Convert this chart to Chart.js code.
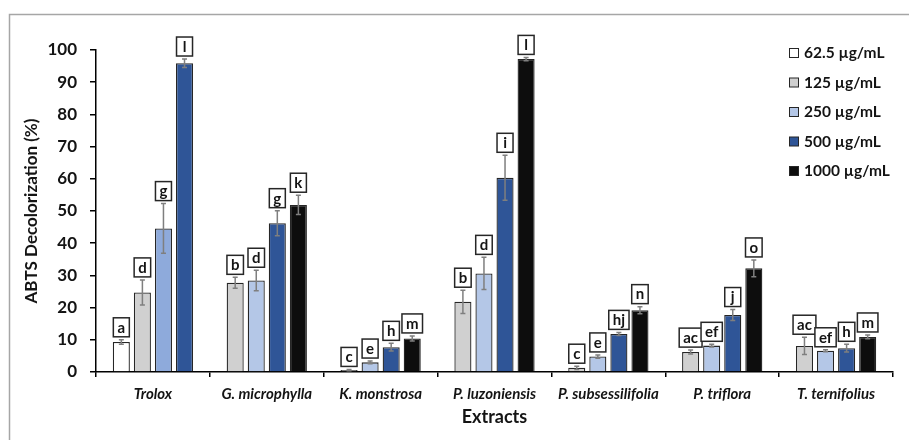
<!DOCTYPE html>
<html>
<head>
<meta charset="utf-8">
<script src="https://cdn.jsdelivr.net/npm/chart.js@4"></script>
<style>
  html, body { margin: 0; padding: 0; background: #fff; }
  #wrap { width: 909px; height: 440px; }
</style>
</head>
<body>
<div id="wrap"><canvas id="myChart" width="909" height="440"></canvas></div>
<script>
// extracts and doses
const extracts = ['Trolox', 'G. microphylla', 'K. monstrosa', 'P. luzoniensis', 'P. subsessilifolia', 'P. triflora', 'T. ternifolius'];
const doses = ['62.5 µg/mL', '125 µg/mL', '250 µg/mL', '500 µg/mL', '1000 µg/mL'];
const yTicks = [0, 10, 20, 30, 40, 50, 60, 70, 80, 90, 100];

// ABTS decolorization (%) per dose
const v625 = [9.3, null, null, null, null, null, null];
const v125 = [24.7, 27.7, 0.6, 21.8, 1.3, 6.2, 8.1];
const v250 = [44.6, 28.4, 3.0, 30.6, 4.8, 8.2, 6.6];
const v500 = [95.9, 46.2, 7.7, 60.3, 11.8, 17.7, 7.4];
const v1000 = [null, 51.9, 10.4, 97.2, 19.2, 32.2, 10.9];

// error (+/-)
const e625 = [0.7, null, null, null, null, null, null];
const e125 = [3.9, 1.7, 0.2, 3.6, 0.5, 0.6, 2.7];
const e250 = [7.7, 3.2, 0.4, 5.0, 0.5, 0.4, 0.3];
const e500 = [1.3, 3.9, 1.2, 7.0, 0.5, 1.7, 1.2];
const e1000 = [null, 3.0, 0.8, 0.5, 1.1, 2.6, 0.6];

// significance letters
const l625 = ['a', null, null, null, null, null, null];
const l125 = ['d', 'b', 'c', 'b', 'c', 'ac', 'ac'];
const l250 = ['g', 'd', 'e', 'd', 'e', 'ef', 'ef'];
const l500 = ['l', 'g', 'h', 'i', 'hj', 'j', 'h'];
const l1000 = [null, 'k', 'm', 'l', 'n', 'o', 'm'];

const values = [v625, v125, v250, v500, v1000];
const errors = [e625, e125, e250, e500, e1000];
const letters = [l625, l125, l250, l500, l1000];
const colors = ['#ffffff', '#d0d0d0', '#b4c7e7', '#2f5597', '#0d0d0d'];

const fontName = 'Lato, "Open Sans", sans-serif';
const ink = '#141414';

// Trolox 250 bar is a deeper blue than the rest
let fill250 = extracts.map((e, i) => i === 0 ? '#8eaadb' : colors[2]);

let datasets = doses.map((d, i) => ({
    label: d,
    data: values[i],
    backgroundColor: i === 2 ? fill250 : colors[i],
    borderColor: '#262626',
    borderWidth: 1.3,
    skipNull: true,
    categoryPercentage: 0.74,
    barPercentage: 0.81
}));

// frame, error bars, letter boxes, legend
let extras = {
    id: 'extras',
    beforeDraw(chart) {
        let ctx = chart.ctx;
        ctx.save();
        ctx.strokeStyle = '#a6a6a6';
        ctx.lineWidth = 1.5;
        ctx.beginPath();
        ctx.moveTo(9.5, 440);
        ctx.lineTo(9.5, 14.5);
        ctx.lineTo(909, 14.5);
        ctx.stroke();
        ctx.restore();
    },
    afterDatasetsDraw(chart) {
        let ctx = chart.ctx;
        let y = chart.scales.y;
        ctx.save();
        chart.data.datasets.forEach((ds, i) => {
            let meta = chart.getDatasetMeta(i);
            meta.data.forEach((bar, j) => {
                let v = values[i][j];
                if (v === null) return;
                let e = errors[i][j];
                let yTop = y.getPixelForValue(v + e);
                let yBot = y.getPixelForValue(v - e);
                ctx.strokeStyle = '#7f7f7f';
                ctx.lineWidth = 1.5;
                ctx.beginPath();
                ctx.moveTo(bar.x, yBot);
                ctx.lineTo(bar.x, yTop);
                ctx.moveTo(bar.x - 2.5, yTop);
                ctx.lineTo(bar.x + 2.5, yTop);
                ctx.moveTo(bar.x - 2.5, yBot);
                ctx.lineTo(bar.x + 2.5, yBot);
                ctx.stroke();

                let txt = letters[i][j];
                ctx.font = 'bold 15px ' + fontName;
                let w = Math.max(16, ctx.measureText(txt).width + 8);
                let h = 19;
                let bx = bar.x - w / 2;
                let by = yTop - 3 - h;
                ctx.fillStyle = '#ffffff';
                ctx.fillRect(bx, by, w, h);
                ctx.strokeStyle = '#262626';
                ctx.lineWidth = 1.5;
                ctx.strokeRect(bx, by, w, h);
                ctx.fillStyle = ink;
                ctx.textAlign = 'center';
                ctx.textBaseline = 'middle';
                ctx.fillText(txt, bar.x, by + h / 2 + 0.5);
            });
        });
        ctx.restore();
    },
    afterDraw(chart) {
        let ctx = chart.ctx;
        ctx.save();
        chart.data.datasets.forEach((ds, i) => {
            let cy = 53 + i * 29.5;
            ctx.fillStyle = colors[i];
            ctx.fillRect(789.5, cy - 4.5, 9, 9);
            ctx.strokeStyle = '#262626';
            ctx.lineWidth = 1;
            ctx.strokeRect(789.5, cy - 4.5, 9, 9);
            ctx.fillStyle = ink;
            ctx.font = 'bold 15.5px ' + fontName;
            ctx.textAlign = 'left';
            ctx.textBaseline = 'middle';
            ctx.fillText(ds.label, 804, cy);
        });
        ctx.restore();
    }
};

ctx = document.getElementById('myChart').getContext('2d');

var chart = new Chart(ctx, {
    type: 'bar',
    data: {
        labels: extracts,
        datasets: datasets
    },
    options: {
        responsive: false,
        animation: false,
        events: [],
        layout: { padding: { left: 0, right: 16, top: 50, bottom: 0 } },
        plugins: {
            legend: { display: false },
            tooltip: { enabled: false }
        },
        scales: {
            x: {
                grid: { drawOnChartArea: false, drawTicks: true, tickLength: 5, color: '#000', lineWidth: 1.5 },
                border: { display: true, color: '#000', width: 1.5 },
                ticks: {
                    color: ink,
                    padding: 8,
                    maxRotation: 0,
                    autoSkip: false,
                    font: { family: fontName, size: 15, weight: 'bold', style: 'italic' }
                },
                title: {
                    display: true,
                    text: 'Extracts',
                    color: ink,
                    padding: { top: 0, bottom: 12 },
                    font: { family: fontName, size: 18, weight: 'bold' }
                },
                afterFit: function (s) { s.height = 68; }
            },
            y: {
                min: 0,
                max: 100,
                afterBuildTicks: function (s) { s.ticks = yTicks.map(v => ({ value: v })); },
                grid: { drawOnChartArea: false, drawTicks: true, tickLength: 6, color: '#000', lineWidth: 1.5 },
                border: { display: true, color: '#000', width: 1.5 },
                ticks: {
                    color: ink,
                    padding: 13,
                    font: { family: fontName, size: 17, weight: 'bold' }
                },
                title: {
                    display: true,
                    text: 'ABTS Decolorization (%)',
                    color: ink,
                    padding: { top: 21, bottom: 0 },
                    font: { family: fontName, size: 17, weight: 'bold' }
                },
                afterFit: function (s) { s.width = 96; }
            }
        }
    },
    plugins: [extras]
});
</script>
</body>
</html>
